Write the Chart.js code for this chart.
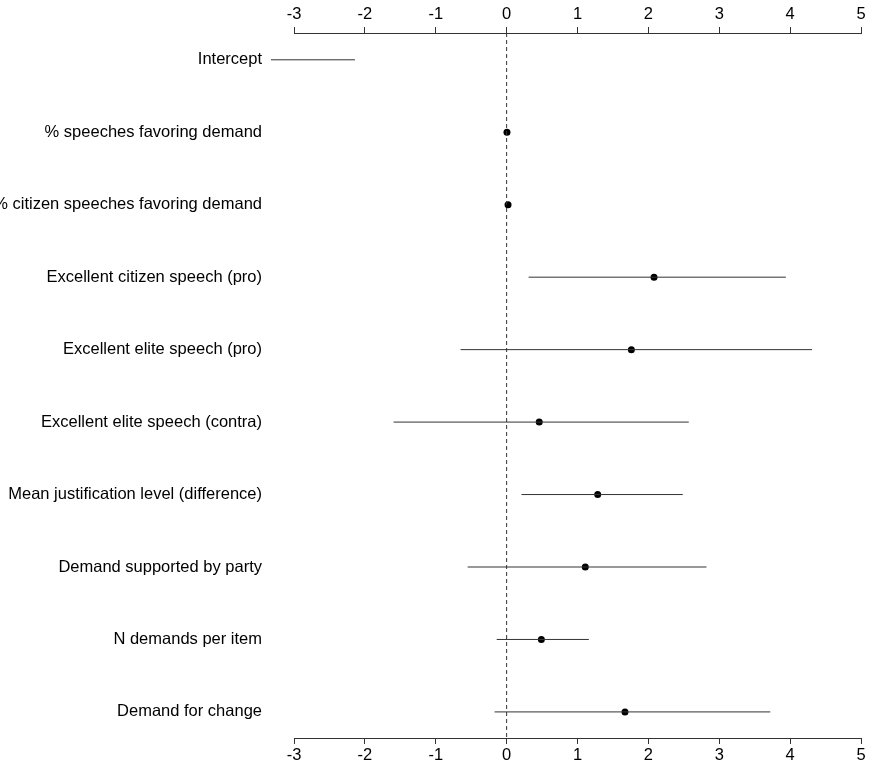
<!DOCTYPE html>
<html>
<head>
<meta charset="utf-8">
<script src="https://cdn.jsdelivr.net/npm/chart.js@4"></script>
<style>
  html, body { margin: 0; padding: 0; background: #fff; }
  canvas { display: block; }
</style>
</head>
<body>
<canvas id="coefChart" width="869" height="765"></canvas>
<script>
// coefficient names, top to bottom
const labels = [
    'Intercept',
    '% speeches favoring demand',
    '% citizen speeches favoring demand',
    'Excellent citizen speech (pro)',
    'Excellent elite speech (pro)',
    'Excellent elite speech (contra)',
    'Mean justification level (difference)',
    'Demand supported by party',
    'N demands per item',
    'Demand for change'
];
// point estimates and interval bounds (intercept estimate lies off the left edge)
const estimates = [-4.5, 0.005, 0.02, 2.08, 1.76, 0.46, 1.285, 1.11, 0.49, 1.67];
const lower     = [-6.9, 0.005, 0.02, 0.31, -0.65, -1.595, 0.21, -0.55, -0.14, -0.17];
const upper     = [-2.14, 0.005, 0.02, 3.94, 4.31, 2.57, 2.485, 2.82, 1.16, 3.72];
const xTicks = [-3, -2, -1, 0, 1, 2, 3, 4, 5];
const yMin = 0.63, yMax = 10.36;

const font = { family: "'Liberation Sans', Arial, sans-serif", size: 16.5 };
const clip = { left: 23, right: 23, top: 0, bottom: 0 };

const datasets = [];
// reference line at zero
datasets.push({
    data: [{ x: 0, y: yMin }, { x: 0, y: yMax }],
    showLine: true,
    borderColor: '#333',
    borderWidth: 1,
    borderDash: [4, 3],
    pointRadius: 0,
    clip: clip
});
// interval lines
labels.forEach((name, i) => {
    datasets.push({
        data: [{ x: lower[i], y: i + 1 }, { x: upper[i], y: i + 1 }],
        showLine: true,
        borderColor: '#333',
        borderWidth: 1,
        pointRadius: 0,
        clip: clip
    });
});
// estimates
datasets.push({
    data: estimates.map((v, i) => ({ x: v, y: i + 1 })),
    showLine: false,
    pointRadius: 3.5,
    pointBackgroundColor: '#000',
    pointBorderWidth: 0,
    clip: clip
});

const xAxis = (pos, h, pad) => ({
    type: 'linear',
    position: pos,
    min: -3,
    max: 5,
    afterBuildTicks: s => { s.ticks = xTicks.map(v => ({ value: v })); },
    afterFit: s => { s.height = h; },
    grid: { drawOnChartArea: false, drawTicks: true, tickLength: 6, color: '#333' },
    border: { display: true, color: '#333' },
    ticks: { color: '#000', font: font, padding: pad, maxRotation: 0, callback: v => String(v) }
});

new Chart(document.getElementById('coefChart'), {
    type: 'scatter',
    data: { datasets: datasets },
    options: {
        responsive: false,
        animation: false,
        layout: { padding: { left: 0, right: 8, top: 0, bottom: 0 } },
        plugins: { legend: { display: false }, tooltip: { enabled: false } },
        scales: {
            x: xAxis('bottom', 27, 2),
            x2: xAxis('top', 33, 3),
            y: {
                type: 'linear',
                reverse: true,
                min: yMin,
                max: yMax,
                afterBuildTicks: s => { s.ticks = labels.map((l, i) => ({ value: i + 1 })); },
                afterFit: s => { s.width = 294; s.paddingTop = 0; s.paddingBottom = 0; },
                grid: { display: false, drawTicks: false },
                border: { display: false },
                ticks: { color: '#000', font: font, padding: 32, callback: v => labels[v - 1] }
            }
        }
    }
});
</script>
</body>
</html>
